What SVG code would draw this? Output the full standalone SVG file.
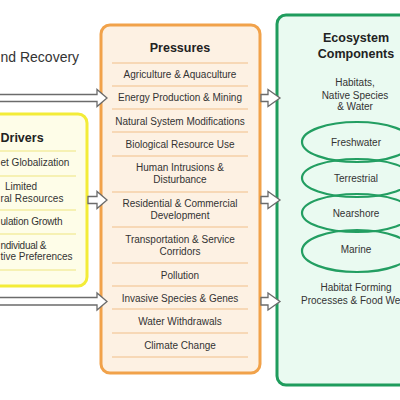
<svg xmlns="http://www.w3.org/2000/svg" width="400" height="400" viewBox="0 0 400 400">
<style>
text{font-family:"Liberation Sans",Arial,sans-serif;fill:#333;}
.t{font-size:10px;text-anchor:middle;}
.ts{font-size:10px;text-anchor:start;}
.h{font-size:12.5px;font-weight:bold;fill:#222;}
.ps{stroke:#f2c089;stroke-width:1.2;}
.ds{stroke:#eee67e;stroke-width:1.2;}
.arr{fill:#fff;stroke:#6b6b6b;stroke-width:1.3;stroke-linejoin:miter;}
.ell{fill:none;stroke:#239e62;stroke-width:2.2;}
</style>
<rect width="400" height="400" fill="#fff"/>
<text x="0.5" y="62" style="font-size:14px;fill:#333">nd Recovery</text>

<g id="drivers">
<rect x="-30" y="114" width="117" height="172" rx="9" fill="#fefde8" stroke="#f3ec38" stroke-width="3"/>
<text class="h" x="0.5" y="142">Drivers</text>
<line class="ds" x1="-30" y1="151" x2="76" y2="151"/>
<text class="ts" x="0.5" y="166">et Globalization</text>
<line class="ds" x1="-30" y1="176" x2="76" y2="176"/>
<text class="t" x="21" y="190">Limited</text>
<text class="ts" x="0.5" y="202" textLength="63">ral Resources</text>
<line class="ds" x1="-30" y1="210" x2="76" y2="210"/>
<text class="ts" x="0.5" y="225" textLength="62">ulation Growth</text>
<line class="ds" x1="-30" y1="234" x2="76" y2="234"/>
<text class="ts" x="0.5" y="249" textLength="46">ndividual &amp;</text>
<text class="ts" x="0.5" y="260" textLength="72">tive Preferences</text>
<line class="ds" x1="-30" y1="270" x2="76" y2="270"/>
</g>

<g id="pressures">
<rect x="101" y="25" width="159" height="348" rx="9" fill="#fdf1e3" stroke="#f1a24a" stroke-width="3"/>
<text class="h" x="180" y="52" text-anchor="middle">Pressures</text>
<g>
<line class="ps" x1="112" y1="63" x2="248" y2="63"/>
<line class="ps" x1="112" y1="86" x2="248" y2="86"/>
<line class="ps" x1="112" y1="109" x2="248" y2="109"/>
<line class="ps" x1="112" y1="132" x2="248" y2="132"/>
<line class="ps" x1="112" y1="156" x2="248" y2="156"/>
<line class="ps" x1="112" y1="192" x2="248" y2="192"/>
<line class="ps" x1="112" y1="227" x2="248" y2="227"/>
<line class="ps" x1="112" y1="263" x2="248" y2="263"/>
<line class="ps" x1="112" y1="286" x2="248" y2="286"/>
<line class="ps" x1="112" y1="309" x2="248" y2="309"/>
<line class="ps" x1="112" y1="333" x2="248" y2="333"/>
<line class="ps" x1="112" y1="357" x2="248" y2="357"/>
</g>
<text class="t" x="180" y="78">Agriculture &amp; Aquaculture</text>
<text class="t" x="180" y="101">Energy Production &amp; Mining</text>
<text class="t" x="180" y="124.5">Natural System Modifications</text>
<text class="t" x="180" y="147.5">Biological Resource Use</text>
<text class="t" x="180" y="171">Human Intrusions &amp;</text>
<text class="t" x="180" y="183">Disturbance</text>
<text class="t" x="180" y="207">Residential &amp; Commercial</text>
<text class="t" x="180" y="219">Development</text>
<text class="t" x="180" y="243">Transportation &amp; Service</text>
<text class="t" x="180" y="255">Corridors</text>
<text class="t" x="180" y="278.5">Pollution</text>
<text class="t" x="180" y="301.5">Invasive Species &amp; Genes</text>
<text class="t" x="180" y="325">Water Withdrawals</text>
<text class="t" x="180" y="348.5">Climate Change</text>
</g>

<g id="ecosystem">
<rect x="277" y="15" width="150" height="370" rx="9" fill="#eafaf1" stroke="#1f9c5d" stroke-width="3"/>
<text class="h" x="356" y="42" text-anchor="middle">Ecosystem</text>
<text class="h" x="356" y="57.5" text-anchor="middle">Components</text>
<text class="t" x="355" y="86">Habitats,</text>
<text class="t" x="355" y="99">Native Species</text>
<text class="t" x="355" y="110">&amp; Water</text>
<ellipse class="ell" cx="357" cy="142" rx="55" ry="20"/>
<ellipse class="ell" cx="357" cy="178" rx="55" ry="19"/>
<ellipse class="ell" cx="357" cy="213" rx="55" ry="19"/>
<ellipse class="ell" cx="357" cy="251" rx="55" ry="21"/>
<text class="t" x="356" y="146">Freshwater</text>
<text class="t" x="356" y="181.5">Terrestrial</text>
<text class="t" x="356" y="216.5">Nearshore</text>
<text class="t" x="356" y="253">Marine</text>
<text class="t" x="356" y="291">Habitat Forming</text>
<text class="t" x="356" y="303.5">Processes &amp; Food Webs</text>
</g>

<g id="connectors">
<path class="arr" d="M-5,94.5 L97,94.5 L97,89.5 L107,98 L97,106.5 L97,101.5 L-5,101.5 Z"/>
<path class="arr" d="M88,196.5 L97,196.5 L97,191.5 L107,200 L97,208.5 L97,203.5 L88,203.5 Z"/>
<path class="arr" d="M-5,297.5 L97,297.5 L97,293 L107,301.5 L97,310 L97,305 L-5,305 Z"/>
<path class="arr" d="M261,94.5 L268,94.5 L268,89.5 L280,98 L268,106.5 L268,101.5 L261,101.5 Z"/>
<path class="arr" d="M261,196.5 L268,196.5 L268,191.5 L280,200 L268,208.5 L268,203.5 L261,203.5 Z"/>
<path class="arr" d="M261,297.5 L268,297.5 L268,293 L280,301.5 L268,310 L268,305 L261,305 Z"/>
</g>
</svg>
